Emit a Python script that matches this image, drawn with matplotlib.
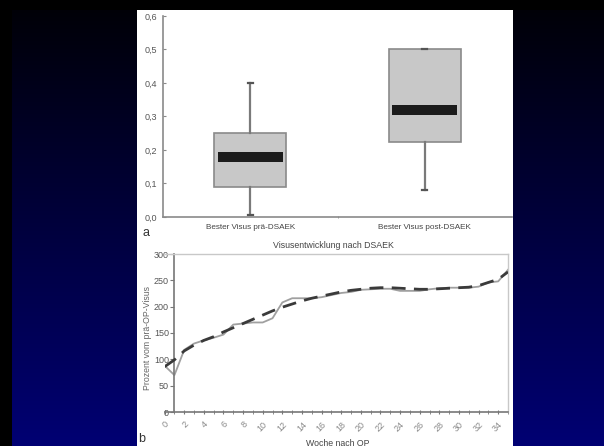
import numpy as np
import matplotlib
matplotlib.use("Agg")
import matplotlib.pyplot as plt
from matplotlib.patches import Rectangle

plt.rcParams['font.family'] = ['Liberation Sans', 'DejaVu Sans']

# ---------------- data ----------------
box_categories = ["Bester Visus prä-DSAEK", "Bester Visus post-DSAEK"]
box_whislo = [0.005, 0.08]
box_q1 = [0.09, 0.225]
box_median = [0.18, 0.32]
box_q3 = [0.25, 0.50]
box_whishi = [0.40, 0.50]
box_yticks = [0.0, 0.1, 0.2, 0.3, 0.4, 0.5, 0.6]
box_yticklabels = ["0,0", "0,1", "0,2", "0,3", "0,4", "0,5", "0,6"]

weeks = list(range(36))
visus_solid = [88, 70, 118, 130, 136, 141, 147, 166, 168, 170, 170, 178,
               208, 216, 216, 216, 218, 222, 226, 228, 232, 233, 234, 234,
               230, 230, 230, 233, 235, 236, 236, 236, 238, 246, 248, 270]
visus_trend = [86, 99, 116, 127, 136, 143, 152, 160, 168, 176, 184, 192,
               199, 205, 211, 216, 220, 224, 228, 231, 233, 235, 236, 236,
               235, 234, 233, 233, 234, 235, 236, 237, 240, 246, 252, 266]
line_yticks = [0, 50, 100, 150, 200, 250, 300]
line_xticks = list(range(0, 35, 2))

W, H = 604, 446
fig = plt.figure(figsize=(W / 100, H / 100), dpi=100)

# background gradient
bg = fig.add_axes([0, 0, 1, 1], zorder=-10)
t = np.linspace(0, 1, H)[:, None, None]
img = np.zeros((H, W, 3))
img[..., 2] = (5 + 110 * t[..., 0]) / 255.0
img[:10, :, :] = 0
img[:, :12, :] = 0
bg.imshow(img, extent=[0, 1, 0, 1], aspect='auto', interpolation='bilinear')
bg.set_xlim(0, 1); bg.set_ylim(0, 1)
bg.axis('off')
bg.add_patch(Rectangle((137 / W, 0), (513 - 137) / W, (H - 10) / H,
                       transform=bg.transAxes, facecolor='white', edgecolor='none'))

lab_col = '#555555'

# ---------------- top: boxplot ----------------
ax1 = fig.add_axes([163 / W, 1 - 217 / H, (512 - 163) / W, (217 - 16) / H])
stats = []
for i in range(len(box_categories)):
    stats.append(dict(whislo=box_whislo[i], q1=box_q1[i], med=box_median[i],
                      q3=box_q3[i], whishi=box_whishi[i], label=box_categories[i]))
ax1.bxp(stats, positions=[1, 2], widths=0.41, patch_artist=True, showfliers=False,
        capwidths=0.03,
        boxprops=dict(facecolor='#c8c8c8', edgecolor='#8a8a8a', linewidth=1.2),
        whiskerprops=dict(color='#7a7a7a', linewidth=1.6),
        capprops=dict(color='#555555', linewidth=1.6),
        medianprops=dict(visible=False))
ax1.bar([1, 2], [0.03, 0.03], bottom=np.array(box_median) - 0.015, width=0.37,
        color='#1c1c1c', zorder=3)
ax1.set_xlim(0.5, 2.5)
ax1.set_ylim(0, 0.6)
ax1.set_yticks(box_yticks)
ax1.set_yticklabels(box_yticklabels)
ax1.set_xticks([1, 2])
ax1.set_xticklabels(box_categories)
ax1.set_xticks([1.5], minor=True)
for s in ['top', 'right']:
    ax1.spines[s].set_visible(False)
for s in ['left', 'bottom']:
    ax1.spines[s].set_color('#8a8a8a')
    ax1.spines[s].set_linewidth(1.2)
ax1.tick_params(axis='y', direction='in', length=2, color='#8a8a8a',
                labelsize=6.5, labelcolor=lab_col, pad=4)
ax1.tick_params(axis='x', which='major', length=0, labelsize=5.9, labelcolor='#444444', pad=5)
ax1.tick_params(axis='x', which='minor', length=2, direction='inout', color='#8a8a8a')
ax1.patch.set_alpha(0)

fig.text(146 / W, 1 - 233 / H, 'a', fontsize=9, color='#333333', ha='center', va='center')

# ---------------- bottom: line chart ----------------
ax2 = fig.add_axes([164.6 / W, 1 - 412 / H, (508 - 164.6) / W, (412 - 254) / H])
ax2.plot(weeks, visus_solid, color='#a0a0a0', linewidth=1.3, zorder=2)
ax2.plot(weeks, visus_trend, color='#3a3a3a', linewidth=2.0, linestyle=(0, (5, 3)), zorder=3)
ax2.set_xlim(0, 35)
ax2.set_ylim(0, 300)
ax2.set_yticks(line_yticks)
ax2.set_xticks(line_xticks)
ax2.set_xticks(weeks, minor=True)
ax2.set_xticklabels([str(v) for v in line_xticks], rotation=45, ha='right', va='top',
                    rotation_mode='anchor')
ax2.spines['left'].set_position(('data', 1))
for s in ['left', 'bottom']:
    ax2.spines[s].set_color('#777777')
    ax2.spines[s].set_linewidth(1.2)
for s in ['top', 'right']:
    ax2.spines[s].set_color('#c8c8c8')
    ax2.spines[s].set_linewidth(1.0)
ax2.tick_params(axis='y', direction='out', length=3, color='#777777',
                labelsize=6.5, labelcolor=lab_col, pad=1)
ax2.tick_params(axis='x', which='both', direction='inout', length=3, color='#777777',
                labelsize=6.5, labelcolor='#888888', pad=4)
ax2.patch.set_alpha(0)

fig.text(333 / W, 1 - 245 / H, 'Visusentwicklung nach DSAEK', fontsize=6.3,
         color='#444444', ha='center', va='center')
fig.text(147 / W, 1 - 338 / H, 'Prozent vom prä-OP-Visus', fontsize=6.3,
         color='#666666', ha='center', va='center', rotation=90)
fig.text(338 / W, 1 - 443 / H, 'Woche nach OP', fontsize=6.3,
         color='#444444', ha='center', va='center')
fig.text(142 / W, 1 - 439 / H, 'b', fontsize=9, color='#333333', ha='center', va='center')

fig.savefig('out.png', dpi=100)
